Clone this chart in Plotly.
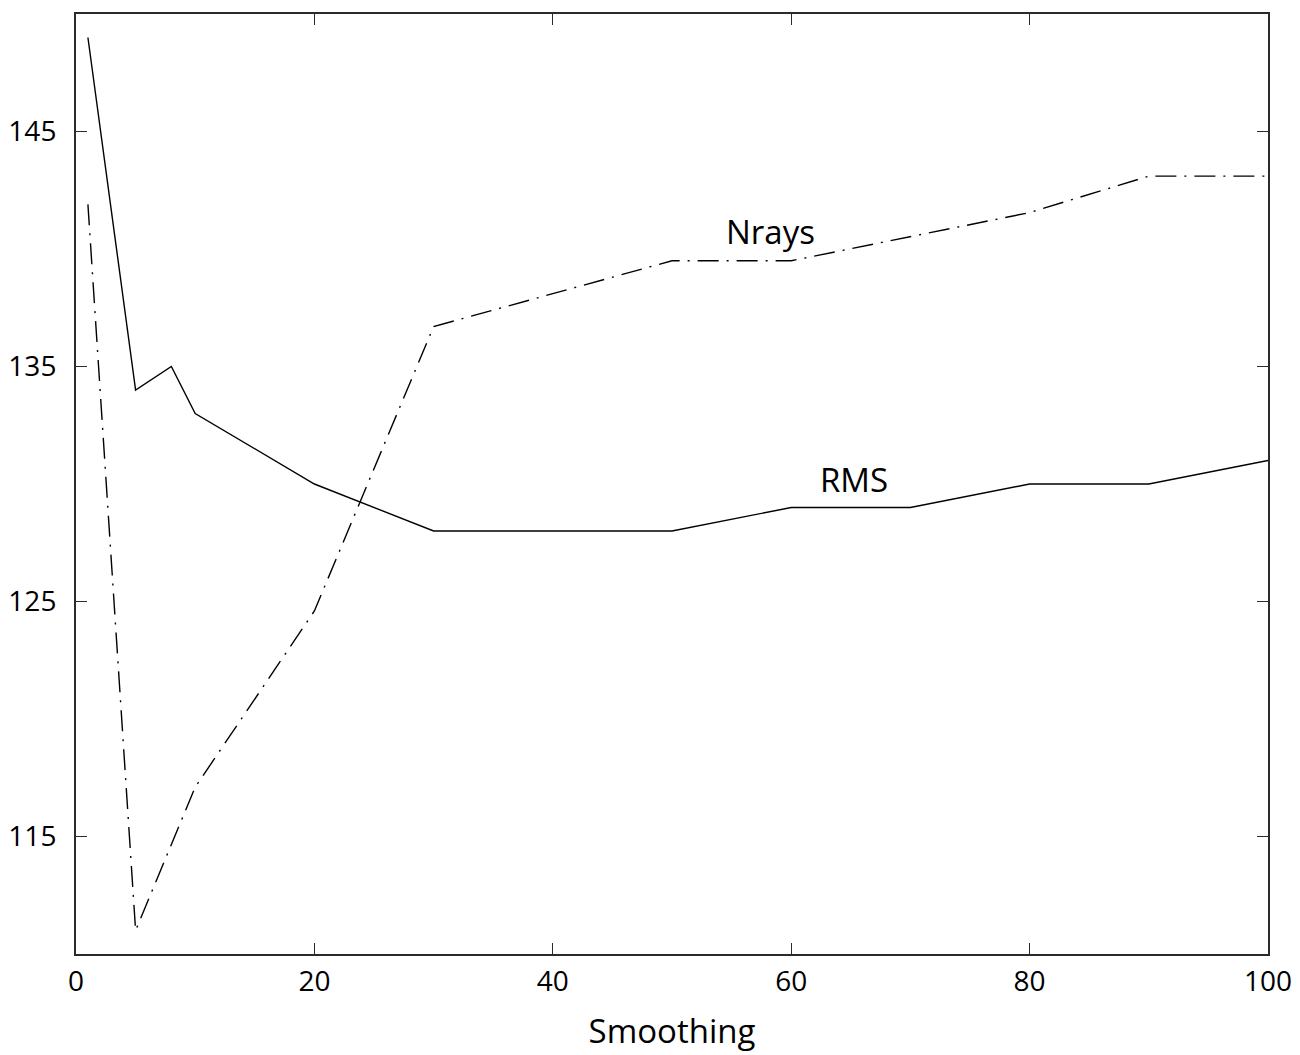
import plotly.graph_objects as go

# Data
rms_x = [1, 5, 8, 10, 20, 30, 50, 60, 70, 80, 90, 100]
rms_y = [149.0, 134.0, 135.0, 133.0, 130.0, 128.0, 128.0, 129.0, 129.0, 130.0, 130.0, 131.0]

nrays_x = [1, 5, 10, 20, 30, 50, 60, 80, 90, 100]
nrays_y = [141.9, 111.0, 117.1, 124.6, 136.7, 139.5, 139.5, 141.55, 143.1, 143.1]

x_ticks = [0, 20, 40, 60, 80, 100]
y_ticks = [115, 125, 135, 145]

label_nrays = ("Nrays", 58.3, 140.75)
label_rms = ("RMS", 65.3, 130.2)

FONT = "Open Sans, Noto Sans, sans-serif"

fig = go.Figure()
fig.add_trace(go.Scatter(x=rms_x, y=rms_y, mode="lines", name="RMS",
                         line=dict(color="black", width=1.4)))
fig.add_trace(go.Scatter(x=nrays_x, y=nrays_y, mode="lines", name="Nrays",
                         line=dict(color="black", width=1.4, dash="21px,8px,2px,8px")))

for txt, ax_, ay_ in (label_nrays, label_rms):
    fig.add_annotation(x=ax_, y=ay_, text=txt, showarrow=False,
                       font=dict(family=FONT, size=33, color="black"),
                       xanchor="center", yanchor="middle")

axis_common = dict(showline=True, mirror="ticks", linecolor="#2b2b2b", linewidth=2,
                   ticks="inside", ticklen=11, tickwidth=1.3, tickcolor="#2b2b2b",
                   showgrid=False, zeroline=False, automargin=False,
                   tickfont=dict(family=FONT, size=28, color="black"))

fig.update_xaxes(range=[0, 100], tickvals=x_ticks, ticklabelstandoff=1,
                 title=dict(text="Smoothing", font=dict(family=FONT, size=33, color="black"),
                            standoff=22),
                 **axis_common)
fig.update_yaxes(range=[110, 150], tickvals=y_ticks, ticklabelstandoff=12,
                 **axis_common)

fig.update_layout(width=1300, height=1055, showlegend=False,
                  plot_bgcolor="white", paper_bgcolor="white",
                  margin=dict(l=76, r=32, t=14, b=101))

fig.write_html("out.html")
